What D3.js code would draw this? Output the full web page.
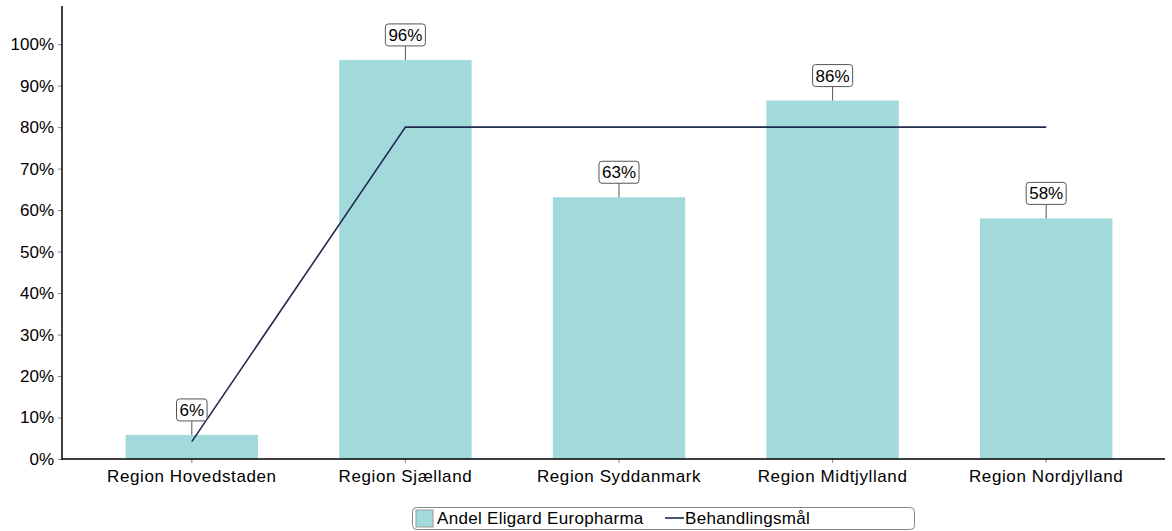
<!DOCTYPE html>
<html><head><meta charset="utf-8">
<script src="https://cdn.jsdelivr.net/npm/d3@7"></script>
<style>body{margin:0;background:#fff}svg{display:block;font-family:"Liberation Sans",Arial,sans-serif}</style>
</head><body><svg id="c" width="1172" height="531"></svg>
<script>
const categories = ["Region Hovedstaden","Region Sjælland","Region Syddanmark","Region Midtjylland","Region Nordjylland"];
const shareValues = [5.8, 96.2, 63.1, 86.4, 58.0];
const targetValues = [4.2, 80, 80, 80, 80];
const yTicks = [0,10,20,30,40,50,60,70,80,90,100];
const seriesNames = ["Andel Eligard Europharma","Behandlingsmål"];

const svg = d3.select("#c");
const x0 = 62, yBase = 459;
const x = d3.scaleBand().domain(categories).range([85, 1153]).paddingInner(0.38).paddingOuter(0.19);
const y = d3.scaleLinear().domain([0, 109.2]).range([yBase, 6]);
const barColor = "#A2DADC", lineColor = "#1F2A50";

// bars
svg.selectAll("rect.bar").data(categories).join("rect").attr("class","bar")
  .attr("x", d => x(d)).attr("width", x.bandwidth())
  .attr("y", (d,i) => y(shareValues[i])).attr("height", (d,i) => yBase - y(shareValues[i]))
  .attr("fill", barColor);

// axes
const yAxis = d3.axisLeft(y).tickValues(yTicks).tickFormat(d => d + "%").tickSize(4).tickSizeOuter(0);
const gy = svg.append("g").attr("transform", `translate(${x0},0)`).call(yAxis);
gy.select(".domain").remove();
gy.selectAll(".tick line").attr("stroke","#888");
gy.selectAll("text").attr("font-size", 17).attr("fill","#000").attr("x",-8);
svg.append("line").attr("x1",x0).attr("x2",x0).attr("y1",6).attr("y2",yBase+1).attr("stroke","#000").attr("stroke-width",1.5);

const xAxis = d3.axisBottom(x).tickSize(4).tickSizeOuter(0);
const gx = svg.append("g").attr("transform", `translate(0,${yBase})`).call(xAxis);
gx.select(".domain").remove();
gx.selectAll(".tick line").attr("stroke","#888");
gx.selectAll("text").attr("font-size", 17).attr("letter-spacing","0.6px").attr("fill","#000").attr("dy","0.95em").attr("y",7);
svg.append("line").attr("x1",x0).attr("x2",1165).attr("y1",yBase).attr("y2",yBase).attr("stroke","#000").attr("stroke-width",1.5);

// target line
const line = d3.line().x((d,i) => x(categories[i]) + x.bandwidth()/2).y(d => y(d));
svg.append("path").datum(targetValues).attr("d", line).attr("fill","none").attr("stroke",lineColor).attr("stroke-width",1.6);

// labels
const lab = svg.selectAll("g.lab").data(categories).join("g").attr("class","lab")
  .attr("transform", (d,i) => `translate(${x(d)+x.bandwidth()/2},${y(shareValues[i])})`);
lab.append("line").attr("x1",0).attr("x2",0).attr("y1",0).attr("y2",-14).attr("stroke","#555");
lab.append("rect").attr("x",-21).attr("y",-36).attr("width",42).attr("height",22).attr("rx",3)
  .attr("fill","#fff").attr("stroke","#555");
lab.append("text").attr("x",0).attr("y",-19).attr("text-anchor","middle").attr("font-size",17).attr("fill","#000")
  .text((d,i) => Math.round(shareValues[i]) + "%");
lab.each(function(d,i){
  const g = d3.select(this), t = g.select("text").node().getComputedTextLength();
  const w = t + 6;
  g.select("rect").attr("x",-w/2).attr("width",w);
});

// legend
const lg = svg.append("g");
lg.append("rect").attr("x",412.5).attr("y",507.5).attr("width",502).attr("height",22).attr("rx",4).attr("fill","#fff").attr("stroke","#888");
lg.append("rect").attr("x",416).attr("y",510).attr("width",17).attr("height",17).attr("fill",barColor).attr("stroke","#999");
lg.append("text").attr("x",437).attr("y",524).attr("font-size",17).attr("letter-spacing","0.3px").text(seriesNames[0]);
lg.append("line").attr("x1",665).attr("x2",684).attr("y1",518).attr("y2",518).attr("stroke",lineColor).attr("stroke-width",1.6);
lg.append("text").attr("x",685).attr("y",524).attr("font-size",17).attr("letter-spacing","0.3px").text(seriesNames[1]);
</script></body></html>
